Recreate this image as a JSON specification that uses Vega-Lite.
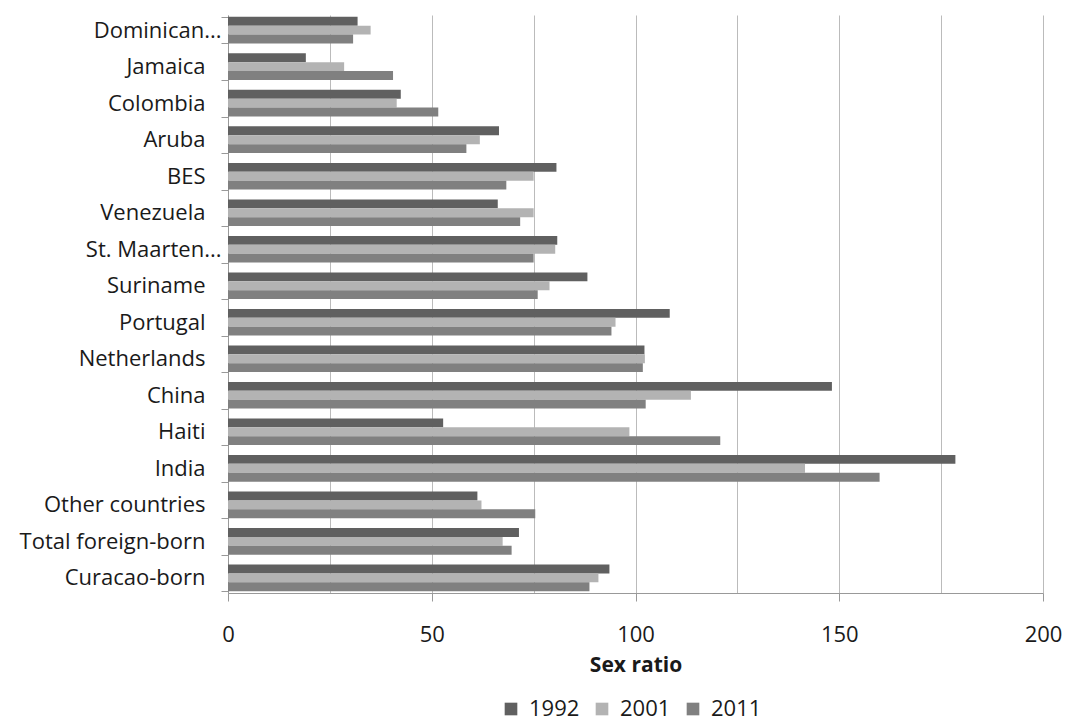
{
  "$schema": "https://vega.github.io/schema/vega-lite/v6.json",
  "width": 815,
  "height": 578,
  "autosize": {"type": "none"},
  "padding": {"left": 228, "top": 15, "right": 24, "bottom": 129},
  "background": "white",
  "config": {"view": {"stroke": null}, "font": "Open Sans"},
  "data": {
    "values": [
      {"country": "Dominican...", "year": "1992", "value": 31.8},
      {"country": "Dominican...", "year": "2001", "value": 35.0},
      {"country": "Dominican...", "year": "2011", "value": 30.7},
      {"country": "Jamaica", "year": "1992", "value": 19.1},
      {"country": "Jamaica", "year": "2001", "value": 28.5},
      {"country": "Jamaica", "year": "2011", "value": 40.5},
      {"country": "Colombia", "year": "1992", "value": 42.4},
      {"country": "Colombia", "year": "2001", "value": 41.4},
      {"country": "Colombia", "year": "2011", "value": 51.6},
      {"country": "Aruba", "year": "1992", "value": 66.5},
      {"country": "Aruba", "year": "2001", "value": 61.8},
      {"country": "Aruba", "year": "2011", "value": 58.5},
      {"country": "BES", "year": "1992", "value": 80.6},
      {"country": "BES", "year": "2001", "value": 75.0},
      {"country": "BES", "year": "2011", "value": 68.3},
      {"country": "Venezuela", "year": "1992", "value": 66.2},
      {"country": "Venezuela", "year": "2001", "value": 75.0},
      {"country": "Venezuela", "year": "2011", "value": 71.7},
      {"country": "St. Maarten...", "year": "1992", "value": 80.8},
      {"country": "St. Maarten...", "year": "2001", "value": 80.3},
      {"country": "St. Maarten...", "year": "2011", "value": 75.0},
      {"country": "Suriname", "year": "1992", "value": 88.2},
      {"country": "Suriname", "year": "2001", "value": 78.9},
      {"country": "Suriname", "year": "2011", "value": 76.0},
      {"country": "Portugal", "year": "1992", "value": 108.4},
      {"country": "Portugal", "year": "2001", "value": 95.1},
      {"country": "Portugal", "year": "2011", "value": 94.1},
      {"country": "Netherlands", "year": "1992", "value": 102.2},
      {"country": "Netherlands", "year": "2001", "value": 102.3},
      {"country": "Netherlands", "year": "2011", "value": 101.8},
      {"country": "China", "year": "1992", "value": 148.2},
      {"country": "China", "year": "2001", "value": 113.6},
      {"country": "China", "year": "2011", "value": 102.5},
      {"country": "Haiti", "year": "1992", "value": 52.8},
      {"country": "Haiti", "year": "2001", "value": 98.5},
      {"country": "Haiti", "year": "2011", "value": 120.8},
      {"country": "India", "year": "1992", "value": 178.5},
      {"country": "India", "year": "2001", "value": 141.6},
      {"country": "India", "year": "2011", "value": 159.9},
      {"country": "Other countries", "year": "1992", "value": 61.2},
      {"country": "Other countries", "year": "2001", "value": 62.2},
      {"country": "Other countries", "year": "2011", "value": 75.4},
      {"country": "Total foreign-born", "year": "1992", "value": 71.4},
      {"country": "Total foreign-born", "year": "2001", "value": 67.4},
      {"country": "Total foreign-born", "year": "2011", "value": 69.6},
      {"country": "Curacao-born", "year": "1992", "value": 93.6},
      {"country": "Curacao-born", "year": "2001", "value": 90.9},
      {"country": "Curacao-born", "year": "2011", "value": 88.7}
    ]
  },
  "mark": {"type": "bar"},
  "encoding": {
    "y": {
      "field": "country",
      "type": "nominal",
      "sort": ["Dominican...", "Jamaica", "Colombia", "Aruba", "BES", "Venezuela", "St. Maarten...", "Suriname", "Portugal", "Netherlands", "China", "Haiti", "India", "Other countries", "Total foreign-born", "Curacao-born"],
      "scale": {"paddingInner": 0.27, "paddingOuter": 0.05},
      "axis": {
        "title": null,
        "tickBand": "extent",
        "tickSize": 7,
        "tickColor": "#999999",
        "domainColor": "#999999",
        "labelFont": "Open Sans",
        "labelFontSize": 22,
        "labelColor": "#1a1a1a",
        "labelLimit": 400,
        "labelPadding": 0,
        "labelExpr": "indexof(datum.label, '...') >= 0 ? datum.label : datum.label + '\u2800'",
        "grid": false
      }
    },
    "yOffset": {
      "field": "year",
      "type": "nominal",
      "sort": ["1992", "2001", "2011"]
    },
    "x": {
      "field": "value",
      "type": "quantitative",
      "scale": {"domain": [0, 200], "nice": false},
      "axis": {
        "title": "Sex ratio",
        "titleFont": "Open Sans",
        "titleFontSize": 21,
        "titleFontWeight": "bold",
        "titleColor": "#1a1a1a",
        "titlePadding": 9,
        "values": [0, 25, 50, 75, 100, 125, 150, 175, 200],
        "grid": true,
        "gridColor": "#bbbbbb",
        "domainColor": "#999999",
        "tickColor": "#999999",
        "tickSize": 8,
        "tickOpacity": {"condition": {"test": "datum.value % 50 === 0", "value": 1}, "value": 0},
        "labelExpr": "datum.value % 50 === 0 ? datum.label : ''",
        "labelFont": "Open Sans",
        "labelFontSize": 22,
        "labelColor": "#1a1a1a",
        "labelPadding": 23,
        "labelFlush": false,
        "labelOverlap": false
      }
    },
    "color": {
      "field": "year",
      "type": "nominal",
      "scale": {"domain": ["1992", "2001", "2011"], "range": ["#606060", "#b3b3b3", "#808080"]},
      "legend": {
        "title": null,
        "orient": "none",
        "direction": "horizontal",
        "legendX": 272,
        "legendY": 683,
        "symbolType": "square",
        "symbolSize": 160,
        "symbolStrokeWidth": 0,
        "labelFont": "Open Sans",
        "labelFontSize": 22,
        "labelColor": "#1a1a1a",
        "labelOffset": 7,
        "columnPadding": 11
      }
    }
  }
}
